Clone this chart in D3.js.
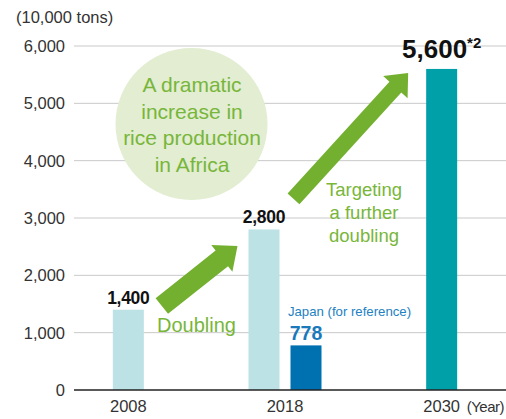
<!DOCTYPE html>
<html>
<head>
<meta charset="utf-8">
<script src="https://cdn.jsdelivr.net/npm/d3@7"></script>
<style>
  body { margin: 0; background: #fff; }
  svg { display: block; font-family: "Liberation Sans", Arial, sans-serif; }
</style>
</head>
<body>
<svg width="506" height="419"></svg>
<script>
// data
var years = ["2008", "2018", "2030"];
var africa = [1400, 2800, 5600];
var africaLabels = ["1,400", "2,800", "5,600"];
var japan = [null, 778, null];
var yTicks = [0, 1000, 2000, 3000, 4000, 5000, 6000];

var svg = d3.select("svg");
var width = +svg.attr("width");

var x = d3.scaleBand().domain(years).range([50, 520]);
var y = d3.scaleLinear().domain([0, 6000]).range([390, 46]);
var barW = 31;

// offset of each series inside a year group
function africaX(i) { return x(years[i]) + x.bandwidth() / 2 + (japan[i] != null ? -21 : 0); }
function japanX(i) { return x(years[i]) + x.bandwidth() / 2 + 21; }

var green = "#73b02f";
var greenText = "#78b63a";

// gridlines
svg.append("g")
  .selectAll("line")
  .data(yTicks.slice(1))
  .enter().append("line")
    .attr("x1", 74).attr("x2", width)
    .attr("y1", d => y(d)).attr("y2", d => y(d))
    .attr("stroke", "#c9c9c9").attr("stroke-width", 1);

// y tick labels
svg.append("g")
  .selectAll("text")
  .data(yTicks)
  .enter().append("text")
    .attr("x", 65)
    .attr("y", d => y(d))
    .attr("dy", "0.36em")
    .attr("text-anchor", "end")
    .attr("font-size", 16.5)
    .attr("fill", "#333")
    .text(d => d3.format(",")(d));

svg.append("text")
  .attr("x", 16).attr("y", 23)
  .attr("font-size", 16.5).attr("fill", "#333")
  .text("(10,000 tons)");

// circle annotation
var circ = svg.append("g");
circ.append("circle")
  .attr("cx", 191.5).attr("cy", 124).attr("r", 76)
  .attr("fill", "#e2edd2");
circ.append("text")
  .attr("text-anchor", "middle")
  .attr("font-size", 21).attr("fill", greenText)
  .selectAll("tspan")
  .data(["A dramatic", "increase in", "rice production", "in Africa"])
  .enter().append("tspan")
    .attr("x", 192)
    .attr("y", (d, i) => 92 + i * 26.7)
    .text(d => d);

// bars
var colorsAfrica = ["#bde2e5", "#bde2e5", "#00a0a8"];
svg.append("g")
  .selectAll("rect")
  .data(africa)
  .enter().append("rect")
    .attr("x", (d, i) => africaX(i) - barW / 2)
    .attr("y", d => y(d))
    .attr("width", barW)
    .attr("height", d => y(0) - y(d))
    .attr("fill", (d, i) => colorsAfrica[i]);

svg.append("g")
  .selectAll("rect")
  .data(japan.map((v, i) => ({v: v, i: i})).filter(d => d.v != null))
  .enter().append("rect")
    .attr("x", d => japanX(d.i) - barW / 2)
    .attr("y", d => y(d.v))
    .attr("width", barW)
    .attr("height", d => y(0) - y(d.v))
    .attr("fill", "#0071b0");

// baseline
svg.append("line")
  .attr("x1", 74).attr("x2", width)
  .attr("y1", y(0)).attr("y2", y(0))
  .attr("stroke", "#222").attr("stroke-width", 1.3);

// x labels
svg.append("g")
  .selectAll("text")
  .data(years)
  .enter().append("text")
    .attr("x", d => x(d) + x.bandwidth() / 2)
    .attr("y", 412)
    .attr("text-anchor", "middle")
    .attr("font-size", 16.5)
    .attr("fill", "#333")
    .text(d => d);
svg.append("text")
  .attr("x", 504).attr("y", 412)
  .attr("text-anchor", "end")
  .attr("font-size", 15).attr("letter-spacing", -0.5)
  .attr("fill", "#333")
  .text("(Year)");

// value labels
africa.forEach(function(v, i) {
  if (i < 2) {
    svg.append("text")
      .attr("x", africaX(i)).attr("y", y(v) - 6)
      .attr("text-anchor", "middle")
      .attr("font-size", 17.5).attr("font-weight", "bold")
      .attr("letter-spacing", -0.3)
      .attr("fill", "#111")
      .text(africaLabels[i]);
  } else {
    var t = svg.append("text")
      .attr("x", africaX(i)).attr("y", y(v) - 11)
      .attr("text-anchor", "middle")
      .attr("font-weight", "bold")
      .attr("fill", "#111");
    t.append("tspan").attr("font-size", 26).text(africaLabels[i]);
    t.append("tspan").attr("font-size", 15).attr("dy", -10).text("*2");
  }
});

japan.forEach(function(v, i) {
  if (v == null) return;
  svg.append("text")
    .attr("x", japanX(i)).attr("y", y(v) - 5)
    .attr("text-anchor", "middle")
    .attr("font-size", 19.5).attr("font-weight", "bold")
    .attr("fill", "#1a79bb")
    .text(v);
  svg.append("text")
    .attr("x", japanX(i) + 43.5).attr("y", y(v) - 29)
    .attr("text-anchor", "middle")
    .attr("font-size", 13.2)
    .attr("fill", "#2281c2")
    .text("Japan (for reference)");
});

// arrows, positioned against the bars
function arrow(x0, y0, x1, y1, shaft, head, headLen) {
  var dx = x1 - x0, dy = y1 - y0, L = Math.sqrt(dx * dx + dy * dy);
  var ang = Math.atan2(dy, dx) * 180 / Math.PI;
  var pts = [[0, -shaft / 2], [L - headLen, -shaft / 2], [L - headLen, -head / 2], [L, 0],
             [L - headLen, head / 2], [L - headLen, shaft / 2], [0, shaft / 2]];
  svg.append("path")
    .attr("d", d3.line()(pts) + "Z")
    .attr("transform", `translate(${x0},${y0}) rotate(${ang})`)
    .attr("fill", green);
}
var c2008 = x("2008") + x.bandwidth() / 2;
var c2018 = x("2018") + x.bandwidth() / 2;
var c2030 = x("2030") + x.bandwidth() / 2;
arrow(c2008 + 33.5, y(1465), c2018 - 47.5, y(2512), 20, 34, 20);
arrow(c2018 + 8.5, y(3332), c2030 - 33.5, y(5529), 16, 33, 19);

// arrow captions
svg.append("text")
  .attr("x", 196.5).attr("y", 332)
  .attr("text-anchor", "middle")
  .attr("font-size", 20).attr("fill", greenText)
  .text("Doubling");
svg.append("text")
  .attr("text-anchor", "middle")
  .attr("font-size", 18.5).attr("fill", greenText)
  .selectAll("tspan")
  .data(["Targeting", "a further", "doubling"])
  .enter().append("tspan")
    .attr("x", 364)
    .attr("y", (d, i) => 195.5 + i * 23.3)
    .text(d => d);
</script>
</body>
</html>
